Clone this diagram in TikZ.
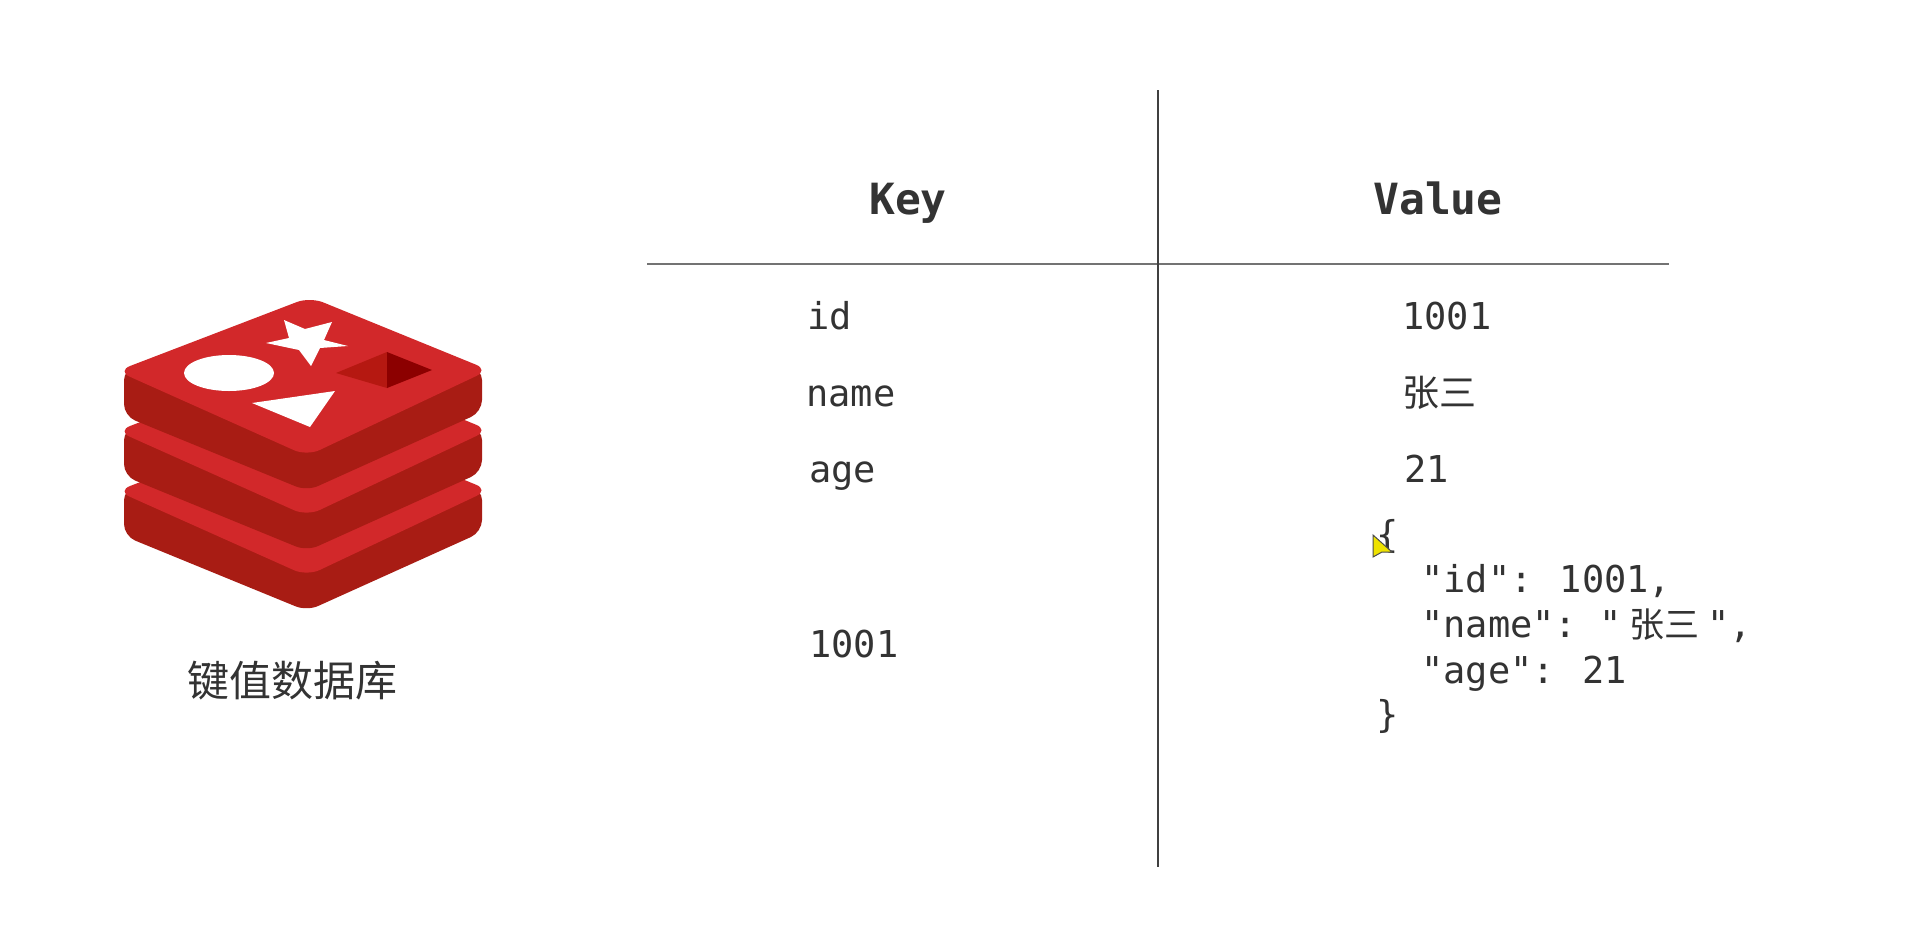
\documentclass[tikz,border=0pt]{standalone}
\usepackage{fontspec}
\setmonofont{DejaVu Sans Mono}
\newfontfamily\cjk{Noto Sans CJK SC}
\definecolor{inkgray}{HTML}{333333}
\definecolor{logotop}{HTML}{D2282A}
\definecolor{logoside}{HTML}{A81C14}
\tikzstyle{cell} = [anchor=base west, inner sep=0pt, text=inkgray, font=\fontsize{37}{37}\selectfont\ttfamily]
\tikzstyle{head} = [anchor=base, inner sep=0pt, text=inkgray, font=\fontsize{43}{43}\selectfont\ttfamily\bfseries]
\tikzstyle{vrule} = [draw=black!75, line width=1.5pt]
\tikzstyle{hrule} = [draw=black!55, line width=2pt]
\newcommand{\logolayer}[1]{
    \fill [logoside, rounded corners=12pt, shift={(0,#1)}] (124,368) -- (124,416) -- (307,491) -- (482,412) -- (482,368) -- cycle;
    \fill [logotop, rounded corners=14pt, shift={(0,#1)}] (117,371) -- (310,297) -- (489,370) -- (307,456) -- cycle;
}
\begin{document}
\begin{tikzpicture}[x=1pt, y=-1pt]
    \useasboundingbox [fill=white] (0,0) rectangle (1910,948);
    % logo
    \logolayer{120}
    \logolayer{60}
    \logolayer{0}
    \fill [white] (284,320) -- (305,329) -- (332,322) -- (324,340) -- (348,346) -- (320,348) -- (311,366) -- (299,350) -- (266,343) -- (289,338) -- cycle;
    \fill [white] (229,373) ellipse (45pt and 18pt);
    \fill [white] (252,403) -- (335,391) -- (310,427) -- cycle;
    \fill [logoside!85!red] (336,373) -- (387,352) -- (387,388) -- cycle;
    \fill [red!55!black] (387,352) -- (432,370) -- (387,388) -- cycle;
    \node (caption) [inner sep=0pt, text=inkgray, font=\fontsize{42}{42}\selectfont\cjk] at (292,681) {键值数据库};
    % table
    \coordinate (top) at (1158,90);
    \coordinate (bottom) at (1158,867);
    \coordinate (left) at (647,264);
    \coordinate (right) at (1669,264);
    \draw [hrule] (left) -- (right);
    \draw [vrule] (top) -- (bottom);
    \node (key) [head] at (908,214) {Key};
    \node (value) [head] at (1438,214) {Value};
    \node (idkey) [cell] at (807,329) {id};
    \node (namekey) [cell] at (806,406) {name};
    \node (agekey) [cell] at (809,482) {age};
    \node (jsonkey) [cell] at (809,657) {1001};
    \node (idval) [cell] at (1402,329) {1001};
    \node (nameval) [cell, font=\fontsize{37}{37}\selectfont\cjk] at (1402,406) {张三};
    \node (ageval) [cell] at (1404,482) {21};
    \node (open) [cell] at (1376,547) {\{};
    \node (idjson) [cell] at (1421,592) {"id":\hspace{5pt} 1001,};
    \node (namejson) [cell] at (1421,637) {"name": "\hspace{8pt}{\cjk\fontsize{35}{35}\selectfont 张三}\hspace{8pt}",};
    \node (agejson) [cell] at (1421,683) {"age":\hspace{5pt} 21};
    \node (close) [cell] at (1376,727) {\}};
    % cursor
    \draw [fill=yellow!85!olive, draw=black!70, line width=1pt] (1373,535) -- (1392,552) -- (1382,552) -- (1373,557) -- cycle;
\end{tikzpicture}
\end{document}
